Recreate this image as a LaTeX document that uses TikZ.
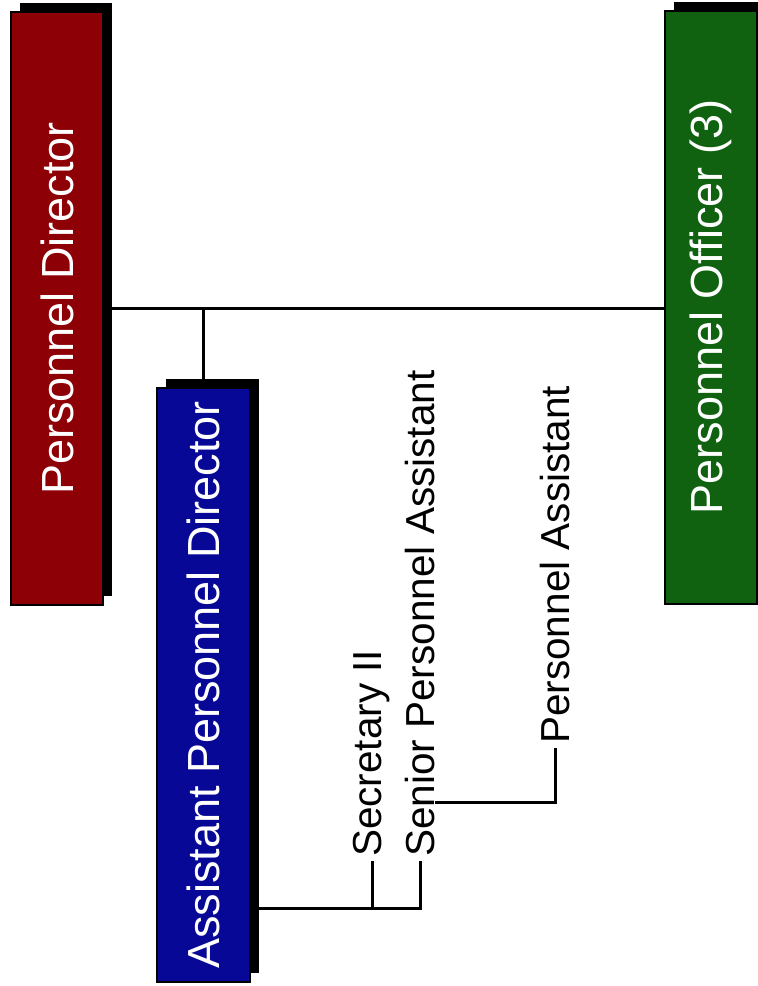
\documentclass[tikz,border=0pt]{standalone}
\usepackage{graphicx}
\usepackage{fontspec}
\setmainfont{Liberation Sans}
\usetikzlibrary{shadows}
\definecolor{pdred}{RGB}{140,0,6}
\definecolor{apdblue}{RGB}{8,8,150}
\definecolor{pogreen}{RGB}{16,98,16}
\tikzset{post/.style={draw=black, line width=2pt, text=white, minimum width=92pt, minimum height=593pt, inner sep=0pt, font=\fontsize{45}{52}\selectfont, drop shadow={shadow xshift=9pt, shadow yshift=9pt, fill=black, opacity=1}}}
\tikzset{title/.style={rotate=90, anchor=west, inner xsep=4pt, inner ysep=0pt, font=\fontsize{40.5}{48}\selectfont}}
\tikzset{link/.style={line width=3pt}}

\begin{document}
\begin{tikzpicture}[x=1pt, y=-1pt]
    \useasboundingbox (0,0) rectangle (758,986);
    \node[post, fill=pdred] (pdir) at (57,308.5) {\rotatebox{90}{Personnel Director}};
    \node[post, fill=apdblue, minimum width=93pt, minimum height=594pt] (apd) at (203.5,685) {\rotatebox{90}{Assistant Personnel Director}};
    \node[post, fill=pogreen] (po) at (711,307) {\rotatebox{90}{Personnel Officer (3)}};
    \node[title] (sec) at (372,861) {Secretary II};
    \node[title] (spa) at (420,861) {Senior Personnel Assistant};
    \node[title] (pa) at (555,748) {Personnel Assistant};
    \coordinate (secj) at (372,908);
    \coordinate (spaj) at (420,908);
    \coordinate (paj) at (555,802);
    \draw[link] (pdir.east) -- (pdir.east -| po.west);
    \draw[link] (apd.north |- pdir.east) -- (apd.north);
    \draw[link] (apd.east |- spaj) -- (spaj) -- (spa.west);
    \draw[link] (secj) -- (sec.west);
    \draw[link] (spa.south |- paj) -- (paj) -- (pa.west);
  \end{tikzpicture}
\end{document}
